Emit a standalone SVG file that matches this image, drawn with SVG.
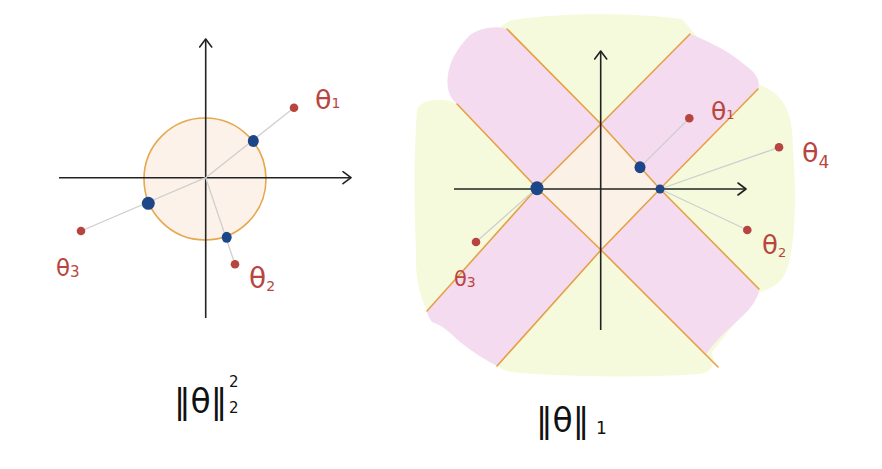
<svg xmlns="http://www.w3.org/2000/svg" width="882" height="469" viewBox="0 0 882 469">
<defs>
<marker id="arr" viewBox="0 0 10 14" refX="9" refY="7" markerWidth="10" markerHeight="14" markerUnits="userSpaceOnUse" orient="auto">
<polyline points="1,1 9,7 1,13" fill="none" stroke="#222" stroke-width="1.6" stroke-linecap="round" stroke-linejoin="round"/>
</marker>
<style>
.axis{stroke:#222;stroke-width:1.6;fill:none;marker-end:url(#arr)}
.proj{stroke:#cfcfcf;stroke-width:1.3;fill:none}
.edge{stroke:#e6a046;stroke-width:1.6;fill:none;stroke-linecap:round;stroke-linejoin:round}
.red{fill:#b8443f}
.blue{fill:#1c4688}
.lab{font-family:"DejaVu Sans","Liberation Sans",sans-serif;fill:#b8463f}
.norm{font-family:"DejaVu Sans","Liberation Sans",sans-serif;fill:#111}
</style>
</defs>
<rect width="882" height="469" fill="#ffffff"/>

<!-- Left: L2 ball -->
<g id="l2-plot">
<circle id="l2-ball" cx="205" cy="179" r="61" fill="#fcf2e9" stroke="#e6a84c" stroke-width="1.6"/>
<g id="l2-axes">
<line class="axis" x1="59" y1="177.7" x2="351" y2="177.7"/>
<line class="axis" x1="205.7" y1="318" x2="205.7" y2="39"/>
</g>
<g id="l2-connectors">
<line class="proj" x1="205.7" y1="177.7" x2="294" y2="107.7"/>
<line class="proj" x1="205.7" y1="177.7" x2="81" y2="231"/>
<line class="proj" x1="205.7" y1="177.7" x2="235" y2="264.3"/>
</g>
<g id="l2-theta1"><circle class="red" cx="294" cy="107.7" r="4.3"/><ellipse class="blue" cx="253.3" cy="141" rx="5.5" ry="6"/>
<text class="lab" x="315" y="109" font-size="27">θ<tspan font-size="14" dy="-1">1</tspan></text></g>
<g id="l2-theta2"><circle class="red" cx="235" cy="264.3" r="4.3"/><ellipse class="blue" cx="226.7" cy="237.3" rx="5" ry="5.5"/>
<text class="lab" x="249" y="288" font-size="28">θ<tspan font-size="14" dy="3">2</tspan></text></g>
<g id="l2-theta3"><circle class="red" cx="81" cy="231" r="4.3"/><ellipse class="blue" cx="148.3" cy="203.3" rx="6.5" ry="6.5"/>
<text class="lab" x="56" y="276" font-size="23">θ<tspan font-size="15" dy="1">3</tspan></text></g>
<text id="l2-label" class="norm" x="174" y="413" font-size="33">‖θ‖</text>
<text class="norm" x="229" y="387" font-size="15">2</text>
<text class="norm" x="229" y="413" font-size="15">2</text>
</g>

<!-- Right: L1 ball -->
<g id="l1-plot">
<path id="green-region" fill="#f5fadc" d="M513,20 C560,12 640,13 682,19 L700,40 L760,85 C784,95 793,110 793,150 C797,200 795,240 788,266 C784,281 774,288 760,292 L712,352 C715,365 712,372 700,374 C650,378 560,377 510,372 C502,370 497,366 497,366 L430,315 C420,300 415,280 416,250 C414,200 414,150 417,110 C420,100 440,96 457,104 L490,40 C495,30 505,22 513,20 Z"/>
<path id="band-a" fill="#f5dbef" d="M507,29 L601,124 L660,189 L759,289 C758,300 750,310 733,325 C722,335 712,345 706,355 L601,250 L537,188 L457,104 C450,98 447,90 447.5,80 C448,65 455,50 470,35 C480,28 495,25 507,29 Z"/>
<path id="band-b" fill="#f5dbef" d="M690,34 C705,40 725,48 745,65 C755,72 761,80 758,89 L660,189 L601,250 L497,366 C485,360 470,350 460,342 C450,333 444,326 432,322 C429,318 427,314 427,311 L537,188 L601,124 Z"/>
<path id="l1-ball" fill="#fbf1e7" d="M601,124 L660,189 L601,250 L537,188 Z"/>
<g id="l1-edges">
<polyline class="edge" points="507,29 601,124 660,189 759,289"/>
<polyline class="edge" points="457,104 537,188 601,250 718,367"/>
<polyline class="edge" points="690,34 601,124 537,188 427,311"/>
<polyline class="edge" points="758,89 660,189 601,250 497,366"/>
</g>
<g id="l1-axes">
<line class="axis" x1="454" y1="189" x2="746" y2="189"/>
<line class="axis" x1="600.7" y1="330" x2="600.7" y2="51"/>
</g>
<g id="l1-connectors">
<line class="proj" x1="689.3" y1="118.3" x2="640" y2="167.3"/>
<line class="proj" x1="779" y1="147.3" x2="660" y2="189"/>
<line class="proj" x1="747.3" y1="230" x2="660" y2="189"/>
<line class="proj" x1="476" y1="242" x2="537" y2="188"/>
</g>
<g id="l1-theta1"><circle class="red" cx="689.3" cy="118.3" r="4.3"/><ellipse class="blue" cx="640" cy="167.3" rx="5.5" ry="6"/>
<text class="lab" x="711" y="120" font-size="25">θ<tspan font-size="13" dy="-1">1</tspan></text></g>
<g id="l1-theta4"><circle class="red" cx="779" cy="147.3" r="4.3"/>
<text class="lab" x="802" y="162" font-size="27">θ<tspan font-size="17" dy="6">4</tspan></text></g>
<g id="l1-theta2"><circle class="red" cx="747.3" cy="230" r="4.3"/>
<text class="lab" x="762" y="254" font-size="26">θ<tspan font-size="13" dy="3">2</tspan></text></g>
<g id="l1-theta3"><circle class="red" cx="476" cy="242" r="4.3"/><ellipse class="blue" cx="537" cy="188.3" rx="6.5" ry="7"/>
<text class="lab" x="454" y="286" font-size="21">θ<tspan font-size="14" dy="1">3</tspan></text></g>
<circle id="l1-vertex" class="blue" cx="660" cy="189" r="4.5"/>
<text id="l1-label" class="norm" x="536" y="432" font-size="33">‖θ‖</text>
<text class="norm" x="596" y="434" font-size="17">1</text>
</g>
</svg>
